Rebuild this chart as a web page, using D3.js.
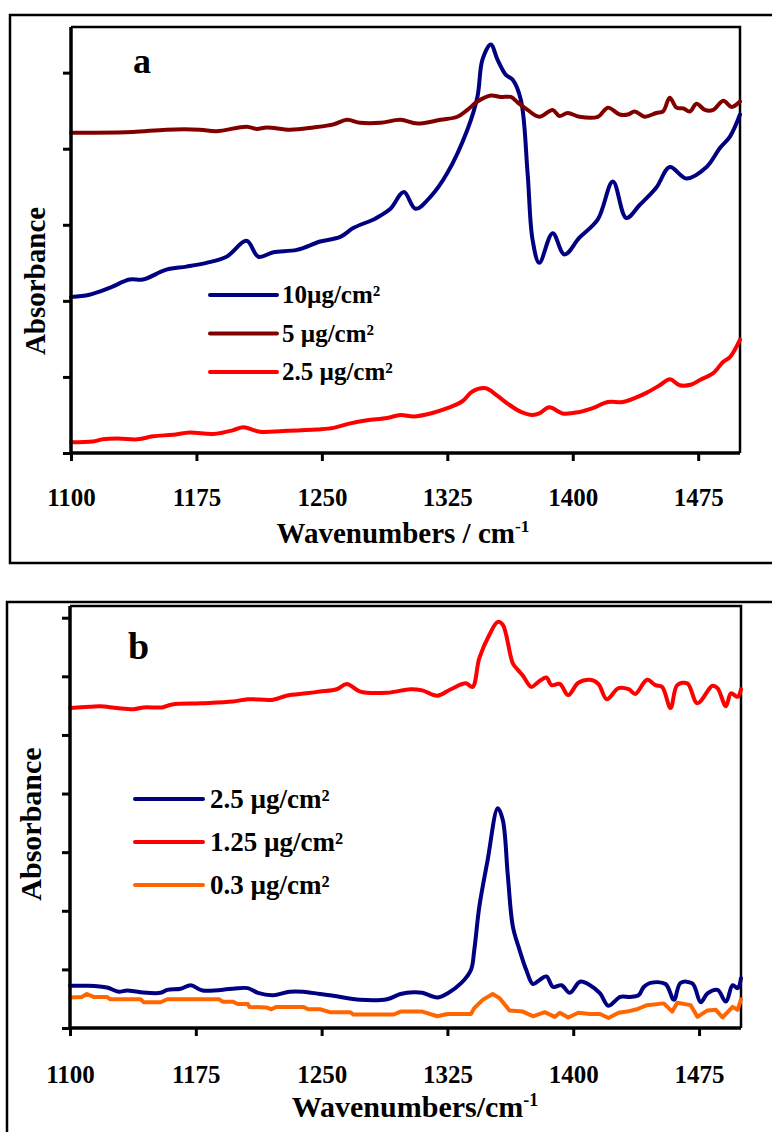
<!DOCTYPE html>
<html><head><meta charset="utf-8">
<script src="https://cdn.jsdelivr.net/npm/d3@7"></script>
<style>body{margin:0;background:#fff}svg{display:block}</style>
</head><body><svg id="c" width="772" height="1132"></svg>
<script>
// ---------- data ----------
const xTicks = [1100, 1175, 1250, 1325, 1400, 1475];
const aYTicks = [0, 1, 2, 3, 4, 5];
const bYTicks = [0, 1, 2, 3, 4, 5, 6, 7];

// Panel a : 10 µg/cm²
const a10W = [1100,1111,1123,1135,1143,1157,1169,1181,1193,1205,1212,1221,1235,1249,1261,1269,1281,1285,1291,1299,1306,1315,1325,1337,1343,1346,1351,1355,1360,1364,1369,1373,1376,1380,1388,1395,1404,1415,1424,1432,1440,1450,1458,1468,1480,1488,1494,1500];
const a10V = [2.05,2.08,2.17,2.28,2.28,2.41,2.45,2.50,2.58,2.79,2.58,2.64,2.67,2.78,2.84,2.96,3.07,3.12,3.21,3.43,3.21,3.37,3.68,4.25,4.68,5.17,5.37,5.17,4.97,4.91,4.64,3.68,2.80,2.50,2.89,2.61,2.83,3.07,3.57,3.09,3.26,3.49,3.76,3.61,3.76,4.01,4.16,4.45];
// Panel a : 5 µg/cm²
const a5W = [1100,1111,1137,1157,1177,1187,1205,1211,1217,1231,1245,1257,1265,1273,1285,1297,1307,1321,1331,1337,1343,1351,1357,1363,1367,1373,1380,1388,1392,1397,1404,1415,1421,1428,1433,1437,1443,1450,1454,1458,1462,1466,1470,1474,1479,1484,1490,1495,1500];
const a5V = [4.21,4.21,4.22,4.25,4.25,4.23,4.29,4.26,4.28,4.25,4.28,4.32,4.38,4.34,4.34,4.38,4.33,4.38,4.42,4.51,4.62,4.70,4.68,4.68,4.61,4.51,4.42,4.51,4.43,4.47,4.42,4.42,4.54,4.45,4.45,4.49,4.42,4.47,4.49,4.67,4.54,4.53,4.49,4.59,4.51,4.51,4.63,4.55,4.62];
// Panel a : 2.5 µg/cm²
const a25W = [1100,1113,1119,1128,1140,1149,1161,1171,1185,1197,1203,1213,1227,1247,1257,1267,1277,1289,1297,1305,1315,1325,1334,1340,1348,1355,1361,1369,1376,1380,1386,1394,1404,1412,1421,1430,1438,1444,1452,1458,1464,1471,1476,1484,1490,1494,1500];
const a25V = [0.14,0.15,0.18,0.19,0.18,0.22,0.24,0.27,0.25,0.30,0.34,0.28,0.29,0.31,0.33,0.39,0.43,0.46,0.50,0.48,0.52,0.59,0.68,0.81,0.85,0.75,0.65,0.54,0.50,0.52,0.60,0.52,0.54,0.59,0.67,0.67,0.73,0.79,0.89,0.97,0.89,0.90,0.96,1.05,1.20,1.26,1.49];

// Panel b : 2.5 µg/cm²
const b25W = [1100,1110,1122,1129,1134,1142,1154,1158,1166,1172,1179,1197,1206,1212,1221,1231,1239,1249,1257,1273,1289,1297,1305,1310,1319,1325,1333,1339,1341,1344,1349,1355,1358,1361,1364,1368,1372,1376,1380,1384,1388,1393,1398,1404,1410,1416,1421,1428,1434,1439,1442,1446,1455,1460,1464,1471,1476,1480,1486,1491,1495,1498,1500];
const b25V = [0.72,0.72,0.69,0.62,0.64,0.61,0.60,0.65,0.67,0.73,0.64,0.67,0.68,0.60,0.56,0.62,0.62,0.58,0.55,0.48,0.49,0.58,0.61,0.60,0.52,0.59,0.76,0.99,1.33,2.07,2.87,3.75,3.55,2.60,1.73,1.33,0.99,0.75,0.82,0.88,0.70,0.73,0.60,0.79,0.73,0.59,0.38,0.53,0.53,0.56,0.70,0.77,0.75,0.48,0.77,0.76,0.44,0.59,0.65,0.45,0.73,0.68,0.85];
// Panel b : 1.25 µg/cm²
const b125W = [1100,1112,1118,1128,1138,1144,1155,1161,1178,1197,1206,1221,1229,1241,1249,1259,1265,1273,1289,1303,1310,1319,1327,1336,1340,1344,1350,1355,1358,1364,1367,1370,1375,1379,1384,1387,1392,1397,1403,1410,1415,1420,1427,1433,1437,1444,1449,1453,1458,1462,1468,1474,1483,1486,1491,1494,1498,1500];
const b125V = [5.46,5.48,5.49,5.46,5.44,5.47,5.47,5.52,5.54,5.57,5.61,5.60,5.67,5.71,5.74,5.78,5.87,5.74,5.72,5.78,5.76,5.67,5.78,5.88,5.82,6.31,6.71,6.93,6.88,6.22,6.11,6.01,5.82,5.90,5.98,5.85,5.87,5.68,5.89,5.94,5.87,5.61,5.80,5.78,5.70,5.94,5.85,5.82,5.46,5.85,5.88,5.54,5.84,5.80,5.49,5.71,5.65,5.78];
// Panel b : 0.3 µg/cm²
const b03W = [1100,1107,1110,1114,1122,1124,1142,1144,1154,1158,1189,1191,1197,1200,1206,1207,1217,1220,1223,1239,1242,1249,1255,1267,1269,1293,1297,1310,1319,1325,1339,1341,1346,1352,1356,1362,1370,1376,1383,1389,1392,1397,1403,1410,1416,1421,1427,1432,1438,1444,1454,1459,1462,1470,1474,1480,1485,1489,1495,1498,1500];
const b03V = [0.52,0.53,0.58,0.53,0.53,0.49,0.49,0.44,0.44,0.49,0.49,0.45,0.45,0.41,0.41,0.36,0.35,0.32,0.36,0.36,0.32,0.32,0.27,0.27,0.23,0.23,0.28,0.28,0.20,0.24,0.24,0.34,0.48,0.58,0.51,0.30,0.28,0.20,0.27,0.19,0.26,0.18,0.26,0.24,0.24,0.17,0.26,0.28,0.32,0.39,0.42,0.28,0.43,0.39,0.19,0.30,0.31,0.18,0.36,0.31,0.49];

const aLabels = ["10µg/cm²", "5 µg/cm²", "2.5 µg/cm²"];
const bLabels = ["2.5 µg/cm²", "1.25 µg/cm²", "0.3 µg/cm²"];

// ---------- drawing ----------
const svg = d3.select("#c");
svg.append("rect").attr("width", 772).attr("height", 1132).attr("fill", "#fff");
const FONT = "'Liberation Serif', 'Times New Roman', serif";

function zip(w, v) { return w.map((d, i) => [d, v[i]]); }

function panel(cfg) {
  // outer frame
  svg.append("rect").attr("x", cfg.frame[0]).attr("y", cfg.frame[1])
    .attr("width", cfg.frame[2]).attr("height", cfg.frame[3])
    .attr("fill", "none").attr("stroke", "#000").attr("stroke-width", 2.5);

  const x = d3.scaleLinear().domain([1100, 1500]).range([cfg.l, cfg.r]);
  const y = d3.scaleLinear().domain([0, cfg.ymax]).range([cfg.b, cfg.t]);

  // plot border top / right
  svg.append("path")
    .attr("d", `M${cfg.l},${cfg.t}H${cfg.r}V${cfg.b}`)
    .attr("fill", "none").attr("stroke", "#000").attr("stroke-width", 2.5);

  const g = svg.append("g");
  cfg.series.forEach(s => {
    g.append("path")
      .attr("fill", "none").attr("stroke", s.color).attr("stroke-width", cfg.lw)
      .attr("stroke-linejoin", "round").attr("stroke-linecap", "round")
      .attr("d", d3.line().x(d => x(d[0])).y(d => y(d[1])).curve(s.curve)(zip(s.w, s.v)));
  });

  // x axis
  const xa = svg.append("g").attr("transform", `translate(0,${cfg.b})`)
    .call(d3.axisBottom(x).tickValues(xTicks).tickSize(8).tickPadding(cfg.tickPad).tickFormat(d3.format("d")));
  xa.select(".domain").attr("stroke-width", 3.5).attr("d", `M${cfg.l - 1},0H${cfg.r}`);
  xa.selectAll(".tick line").attr("stroke-width", 3);
  xa.selectAll(".tick text").attr("font-family", FONT).attr("font-weight", "bold")
    .attr("font-size", cfg.tickSize).attr("fill", "#000");

  // y axis
  const ya = svg.append("g").attr("transform", `translate(${cfg.l},0)`)
    .call(d3.axisLeft(y).tickValues(cfg.yTicks).tickSize(8).tickFormat(""));
  ya.select(".domain").attr("stroke-width", 3.5).attr("d", `M0,${cfg.b + 1}V${cfg.t}`);
  ya.selectAll(".tick line").attr("stroke-width", 3);

  // x title
  const xt = svg.append("text").attr("x", cfg.xtX).attr("y", cfg.xtY)
    .attr("text-anchor", "middle").attr("font-family", FONT).attr("font-weight", "bold")
    .attr("font-size", cfg.xtSize).attr("fill", "#000");
  xt.append("tspan").text(cfg.xtText);
  xt.append("tspan").attr("font-size", cfg.xtSize * 0.6).attr("dy", -cfg.xtSize * 0.38).text("-1");

  // y title
  svg.append("text").attr("transform", `translate(${cfg.ytX},${cfg.ytY}) rotate(-90)`)
    .attr("text-anchor", "middle").attr("font-family", FONT).attr("font-weight", "bold")
    .attr("font-size", cfg.ytSize).attr("fill", "#000").text("Absorbance");

  // panel letter
  svg.append("text").attr("x", cfg.letter[0]).attr("y", cfg.letter[1])
    .attr("font-family", FONT).attr("font-weight", "bold").attr("font-size", cfg.letter[2])
    .attr("fill", "#000").text(cfg.letter[3]);

  // legend
  cfg.series.forEach((s, i) => {
    const ly = cfg.leg.y0 + i * cfg.leg.dy;
    svg.append("line").attr("x1", cfg.leg.x1).attr("x2", cfg.leg.x2)
      .attr("y1", ly).attr("y2", ly).attr("stroke", s.color).attr("stroke-width", cfg.lw)
      .attr("stroke-linecap", "round");
    svg.append("text").attr("x", cfg.leg.tx).attr("y", ly + cfg.leg.off)
      .attr("font-family", FONT).attr("font-weight", "bold").attr("font-size", cfg.leg.size)
      .attr("fill", "#000").text(s.label);
  });
}

panel({
  frame: [10, 15, 800, 548],
  l: 71, r: 740, t: 27, b: 453, ymax: 5.6, yTicks: aYTicks, lw: 4, tickPad: 27, tickSize: 25,
  series: [
    { w: a10W, v: a10V, color: "#000080", label: aLabels[0], curve: d3.curveCatmullRom },
    { w: a5W, v: a5V, color: "#800000", label: aLabels[1], curve: d3.curveCatmullRom },
    { w: a25W, v: a25V, color: "#ff0000", label: aLabels[2], curve: d3.curveCatmullRom }
  ],
  xtText: "Wavenumbers / cm", xtX: 403, xtY: 543, xtSize: 29,
  ytX: 45, ytY: 281, ytSize: 29,
  letter: [133, 73, 36, "a"],
  leg: { x1: 210, x2: 277, tx: 282, y0: 295, dy: 38.5, off: 8, size: 25 }
});

panel({
  frame: [7, 602, 800, 600],
  l: 70, r: 741, t: 606, b: 1028, ymax: 7.2, yTicks: bYTicks, lw: 4, tickPad: 29, tickSize: 25,
  series: [
    { w: b25W, v: b25V, color: "#000080", label: bLabels[0], curve: d3.curveCatmullRom },
    { w: b125W, v: b125V, color: "#ff0000", label: bLabels[1], curve: d3.curveCatmullRom },
    { w: b03W, v: b03V, color: "#ff6600", label: bLabels[2], curve: d3.curveLinear }
  ],
  xtText: "Wavenumbers/cm", xtX: 415, xtY: 1117, xtSize: 30,
  ytX: 41, ytY: 824, ytSize: 30,
  letter: [128, 659, 38, "b"],
  leg: { x1: 135, x2: 203, tx: 210, y0: 799, dy: 43, off: 9, size: 27 }
});
</script></body></html>
